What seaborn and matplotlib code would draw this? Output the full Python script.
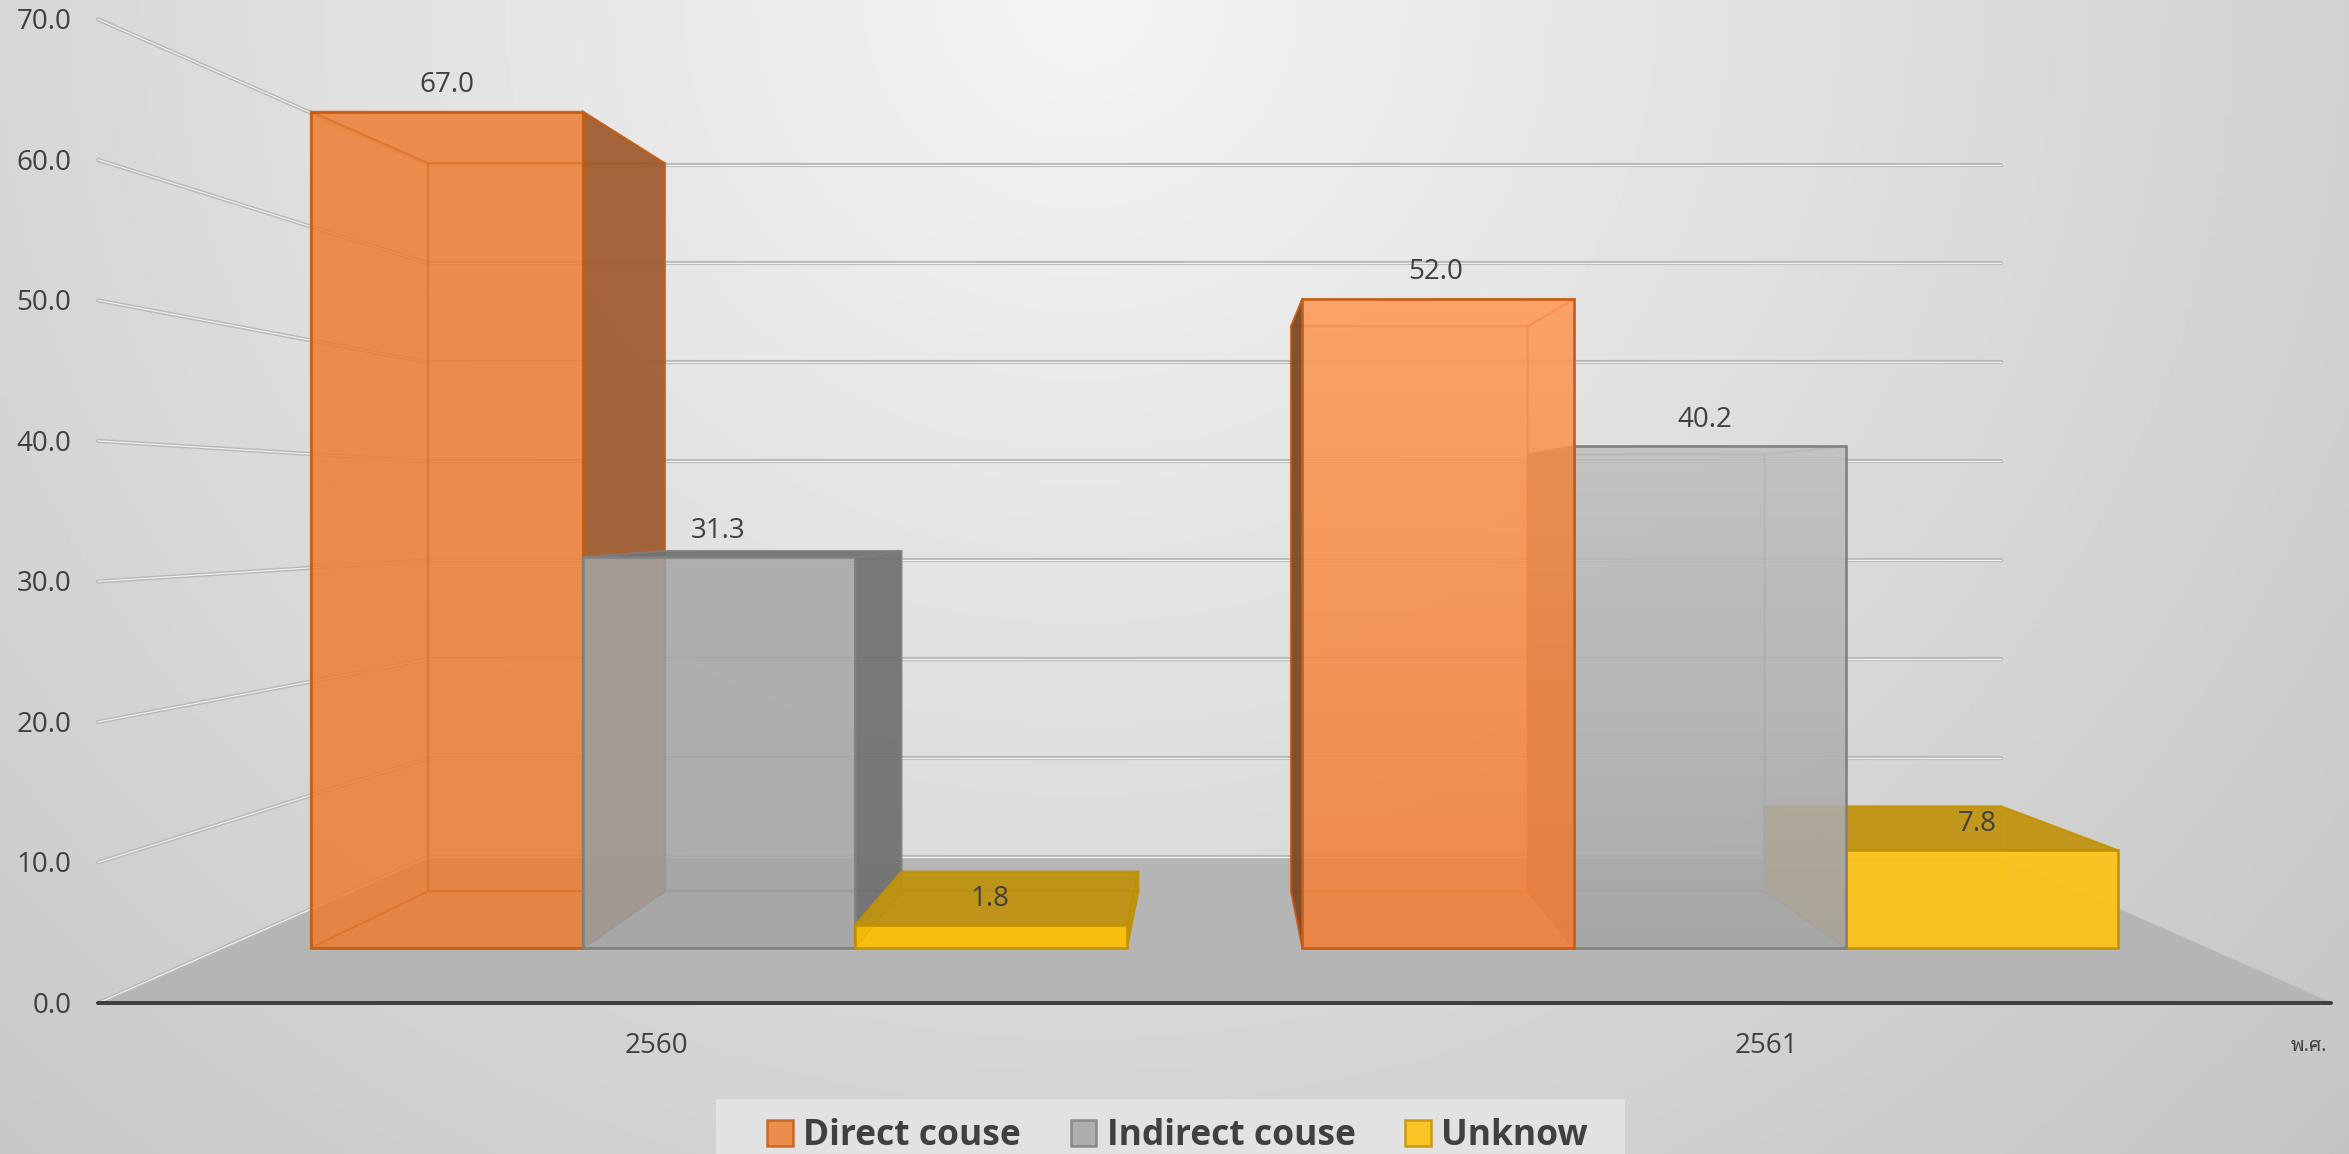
import numpy as np
import pandas as pd
import seaborn as sns
import matplotlib
matplotlib.use('Agg')
import matplotlib.pyplot as plt
from matplotlib.colors import to_rgb
from matplotlib.patches import Rectangle

years = ['2560', '2561']
causes = ['Direct couse', 'Indirect couse', 'Unknow']
direct = [67.0, 52.0]
indirect = [31.3, 40.2]
unknown = [1.8, 7.8]
axis_ticks = [0, 10, 20, 30, 40, 50, 60, 70]

colors = ['#ED7D31', '#A5A5A5', '#FFC000']
light_colors = ['#FF9650', '#BEBEBE', '#FFC314']
edges = ['#C55A11', '#7F7F7F', '#BF9000']
dark_colors = [['#99592F', '#6E4020'], ['#6C6C6C', '#6C6C6C'], ['#B78E13', '#B98F14']]
face_alpha = [0.6, 0.6, 0.7]
fade_colors = ['#D9601A', '#808080', None]

# perspective of the old excel 3d chart: everything scales round a vanishing point
vp_x, vp_y = 0.5, 35.08
k_front, k_back, k_wall = 1.126, 0.8705, 0.7928
floor_x = (-0.5, 1.5)
ink = '#404040'

sns.set_style('white')
plt.rcParams['font.family'] = ['Open Sans', 'DejaVu Sans']


def project(x, v, k):
    return vp_x + k * (x - vp_x), vp_y + k * (v - vp_y)


def face(ax, pts, color, alpha, edge, z, lw=1.3, edge_alpha=0.55):
    xs = [p[0] for p in pts]
    ys = [p[1] for p in pts]
    ax.fill(xs, ys, facecolor=(*to_rgb(color), alpha), edgecolor=(*to_rgb(edge), edge_alpha),
            linewidth=lw, zorder=z)


def wall_line(ax, p0, p1, z=2):
    ax.plot([p0[0], p1[0]], [p0[1], p1[1]], color='#b9b9b9', lw=3.0, zorder=z, solid_capstyle='round')
    ax.plot([p0[0], p1[0]], [p0[1], p1[1]], color='#efefef', lw=0.9, zorder=z, solid_capstyle='round')


df = pd.DataFrame({
    'year': years * 3,
    'cause': [c for c in causes for _ in years],
    'pct': direct + indirect + unknown,
})

fig = plt.figure(figsize=(23.49, 11.54), dpi=100)
ax = fig.add_axes([0, 0, 1, 1])
sns.barplot(data=df, x='year', y='pct', hue='cause', palette=colors, width=0.823, gap=0,
            saturation=1, errorbar=None, ax=ax)
xlim = (-0.725, 1.644)
ylim = (-16.52, 75.95)

# background
yy, xx = np.mgrid[0:1:300j, 0:1:600j]
t = np.sqrt(((xx - 0.46) / 0.82) ** 2 + (yy / 1.6) ** 2)
ax.imshow(244 - 53 * t, cmap='gray', vmin=0, vmax=255, extent=(*xlim, ylim[0], ylim[1]),
          origin='upper', aspect='auto', zorder=0)

# floor and walls
floor = [project(floor_x[0], 0, k_front), project(floor_x[1], 0, k_front),
         project(floor_x[1], 0, k_wall), project(floor_x[0], 0, k_wall)]
face(ax, floor, '#b5b5b5', 1, '#b5b5b5', 1)
for v in axis_ticks:
    wall_line(ax, project(floor_x[0], v, k_wall), project(floor_x[1], v, k_wall))
    wall_line(ax, project(floor_x[0], v, k_front), project(floor_x[0], v, k_wall))
    lx, ly = project(floor_x[0], v, k_front)
    ax.text(lx - 0.0272, ly - 0.22, f'{v:.1f}', ha='right', va='center', fontsize=20, color=ink, zorder=40)
ax.plot(*zip(project(floor_x[0], 0, k_front), project(floor_x[1], 0, k_front)),
        color=ink, lw=2.9, zorder=3)

# 3d sides, taken from the bars seaborn has placed
draws = []
for s, cont in enumerate(ax.containers):
    for g, bar in enumerate(cont):
        draws.append((g, s, bar))
draws.sort(key=lambda d: (d[0], d[1] if d[0] == 0 else -d[1]))

z = 5
for g, s, bar in draws:
    x0, x1 = bar.get_x(), bar.get_x() + bar.get_width()
    v = bar.get_height()
    base = colors[s] if g == 0 else light_colors[s]
    line = edges[s] if g == 0 else colors[s]
    a = face_alpha[s]
    f = [(x0, 0), (x1, 0), (x1, v), (x0, v)]
    b = [project(px, pv, k_back) for px, pv in f]
    sides = {
        'back': b,
        'bottom': [f[0], f[1], b[1], b[0]],
        'left': [f[0], f[3], b[3], b[0]],
        'right': [f[1], f[2], b[2], b[1]],
        'top': [f[3], f[2], b[2], b[3]],
    }
    outer = ['right' if x1 < vp_x else 'left']
    if v < vp_y:
        outer.append('top')
    # inner faces first, the dark outside faces go over them
    for name in ['back', 'bottom', 'left', 'right', 'top']:
        if name not in outer:
            face(ax, sides[name], base, a, line, z, lw=1.6, edge_alpha=0.45)
            z += 1
    for name in outer:
        face(ax, sides[name], dark_colors[s][g], 0.85, edges[s], z, lw=1.5, edge_alpha=0.8)
        z += 1
    bar.set_facecolor((*to_rgb(base), a))
    bar.set_edgecolor(edges[s])
    bar.set_linewidth(1.8)
    bar.set_zorder(z)
    z += 1
    # second group gets darker towards the floor
    if g == 1 and fade_colors[s]:
        ramp = np.zeros((100, 2, 4))
        ramp[..., :3] = to_rgb(fade_colors[s])
        ramp[..., 3] = np.linspace(0, 0.35, 100)[:, None]
        ax.imshow(ramp, extent=(x0, x1, 0, v), origin='upper', aspect='auto', zorder=z)
        z += 1

label_nudge = [[0, -2], [-0.5, -4], [-1, -4]]
for s, cont in enumerate(ax.containers):
    for g, lab in enumerate(ax.bar_label(cont, fmt='%.1f', padding=9, fontsize=20, color=ink)):
        lab.xyann = (label_nudge[s][g], 9)
        lab.set_zorder(40)

# category labels
nudge = [0, -0.0065]
for i, year in enumerate(years):
    lx, ly = project(i, 0, k_front)
    ax.text(lx + nudge[i], ly - 3.42, year, ha='center', va='center', fontsize=20, color=ink, zorder=40)

lx, ly = project(floor_x[1], 0, k_front)
ax.text(lx - 0.004, ly - 3.42, 'พ.ศ.', ha='right', va='center', fontsize=14, color=ink, zorder=40,
        family=['Noto Sans Thai Looped', 'DejaVu Sans'])

# legend sits on its own lighter strip, cut by the bottom of the picture
ax.add_patch(Rectangle((716 / 2349, 0), 909 / 2349, 55 / 1154, transform=ax.transAxes,
                       facecolor='#e2e2e2', edgecolor='none', zorder=45))
handles, labels = ax.get_legend_handles_labels()
leg = ax.legend(handles, labels, loc='upper center', bbox_to_anchor=(1177.5 / 2349, 1 - 1099 / 1154),
                ncol=3, frameon=False, borderaxespad=0, borderpad=0.55, handlelength=0.72, handleheight=0.75,
                handletextpad=0.3, columnspacing=1.4, prop={'size': 25.5, 'weight': 'bold'})
for text in leg.get_texts():
    text.set_color(ink)
for h, e in zip(leg.legend_handles, edges):
    h.set_alpha(0.84)
    h.set_edgecolor(e)
    h.set_linewidth(1.8)
leg.set_zorder(50)

ax.set_xlim(*xlim)
ax.set_ylim(*ylim)
ax.axis('off')
fig.savefig('out.png', dpi=100)
